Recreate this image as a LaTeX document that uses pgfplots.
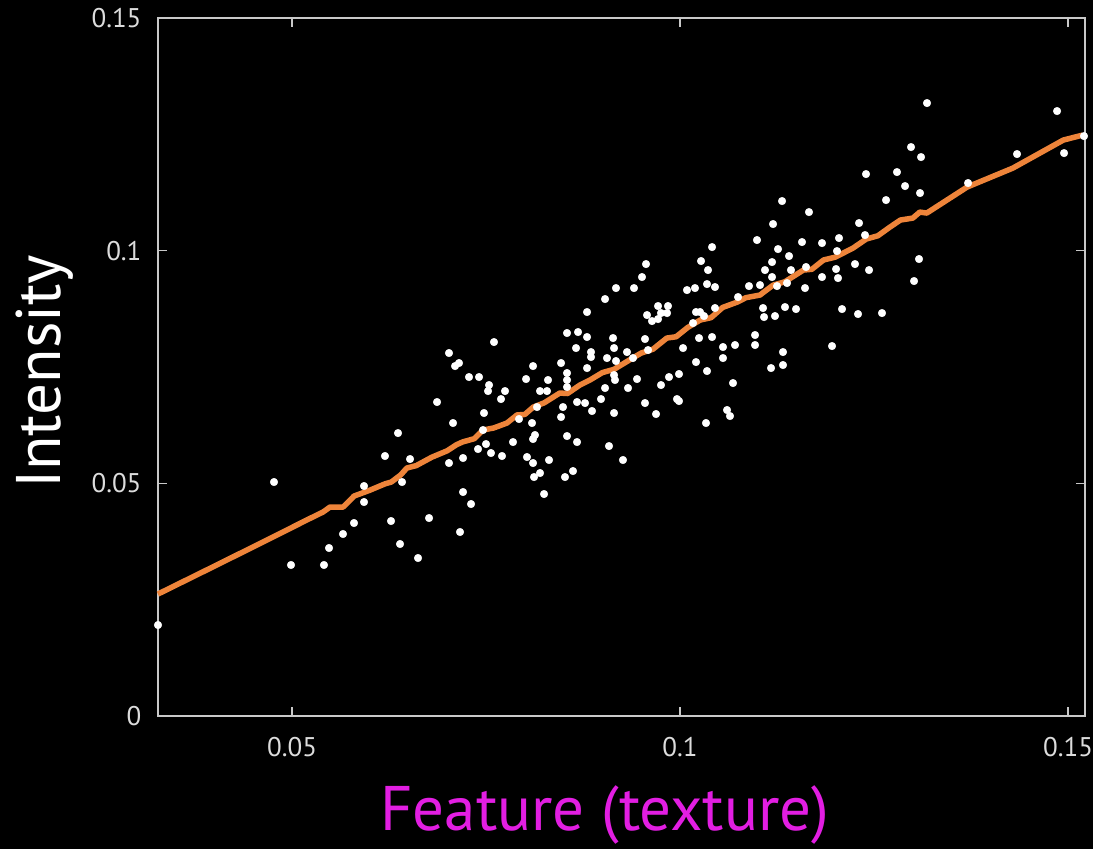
\documentclass[border=0pt]{standalone}
\usepackage{pgfplots}
\pgfplotsset{compat=1.18}
\usepackage{fontspec}
\setmainfont{PT Sans}
\definecolor{axgray}{RGB}{200,200,200}
\definecolor{tickgray}{RGB}{220,220,220}
\definecolor{lineorange}{RGB}{238,132,58}
\definecolor{labmagenta}{RGB}{226,30,226}
\begin{document}
\begin{tikzpicture}
\path[use as bounding box, fill=black] (-158pt,-133pt) rectangle (935pt,716pt);
\begin{axis}[
  at={(0pt,0pt)}, anchor=south west,
  scale only axis, width=927pt, height=698pt,
  xmin=0.03273, xmax=0.15219, ymin=0, ymax=0.15,
  xtick={0.05,0.1,0.15}, xticklabels={0.05,0.1,0.15},
  ytick={0,0.05,0.1,0.15}, yticklabels={0,0.05,0.1,0.15},
  tick align=inside, major tick length=9pt,
  axis line style={draw=axgray, line width=2pt},
  every tick/.style={axgray, line width=1.6pt},
  ticklabel style={font=\fontsize{27}{32}\selectfont, text=tickgray},
  xticklabel style={yshift=-18pt},
  yticklabel style={xshift=-13pt},
  xlabel={Feature (texture)},
  xlabel style={font=\fontsize{63}{70}\selectfont, text=labmagenta, anchor=base,
    at={(axis description cs:0.482,0)}, yshift=-114pt},
  ylabel={Intensity},
  ylabel style={font=\fontsize{63}{70}\selectfont, text=white, anchor=center,
    at={(axis description cs:-0.1219,0.493)}},
  clip=false,
]
\addplot[lineorange, line width=5.5pt, line join=round] coordinates {
(0.03273,0.02621) (0.0400,0.0322) (0.0470,0.0380) (0.0520,0.0422) (0.0540,0.04383)
(0.0549,0.04491) (0.0566,0.04491) (0.0580,0.04727) (0.0600,0.04850) (0.0620,0.04990)
(0.0628,0.05028) (0.0640,0.05180) (0.0648,0.05329) (0.0660,0.05380) (0.0680,0.05560)
(0.0700,0.05700) (0.0712,0.05830) (0.0720,0.05890) (0.0735,0.05960) (0.0746,0.06145)
(0.0760,0.06190) (0.0777,0.06296) (0.0790,0.06470) (0.0800,0.06480) (0.0811,0.06640)
(0.0825,0.06730) (0.0845,0.06940) (0.0855,0.06930) (0.0871,0.07112) (0.0885,0.07230)
(0.0900,0.07380) (0.0915,0.07450) (0.0939,0.07692) (0.0950,0.07800) (0.0965,0.07880)
(0.0983,0.08122) (0.0995,0.08150) (0.1010,0.08350) (0.1026,0.08509) (0.1040,0.08560)
(0.1055,0.08780) (0.1074,0.08896) (0.1085,0.08990) (0.1103,0.09046) (0.1120,0.09260)
(0.1135,0.09330) (0.1159,0.09583) (0.1170,0.09600) (0.1185,0.09800) (0.1200,0.09860)
(0.1223,0.10056) (0.1240,0.10250) (0.1255,0.10320) (0.1270,0.10500) (0.1284,0.10658)
(0.1300,0.10700) (0.1309,0.10829) (0.1318,0.10808) (0.1370,0.11367) (0.1429,0.11775)
(0.1494,0.12377) (0.1519,0.12484)
};
\addplot[only marks, mark=*, mark size=3.8pt, mark options={draw=white, fill=white}] coordinates {
(0.03273,0.01955) (0.04768,0.05028) (0.04987,0.03245) (0.05412,0.03245) (0.05477,0.03610)
(0.05657,0.03911) (0.05799,0.04147) (0.05928,0.04942) (0.05928,0.04598) (0.06198,0.05587)
(0.06276,0.04190) (0.06392,0.03696) (0.06418,0.05028) (0.06366,0.06080) (0.06521,0.05522)
(0.06624,0.03395) (0.06766,0.04254) (0.07165,0.03954) (0.07307,0.04555) (0.07204,0.04813)
(0.07603,0.08036) (0.07023,0.07800) (0.07101,0.07520) (0.07152,0.07585) (0.07281,0.07284)
(0.07410,0.07284) (0.07539,0.07112) (0.07526,0.06983) (0.07745,0.06983) (0.07693,0.06811)
(0.06869,0.06747) (0.08106,0.07520) (0.08016,0.07241) (0.08299,0.07220) (0.08196,0.06983)
(0.08286,0.06983) (0.08467,0.07585) (0.08544,0.08230) (0.08660,0.07907) (0.08544,0.07370)
(0.08544,0.07220) (0.08544,0.07069) (0.08673,0.06747) (0.08492,0.06639) (0.08467,0.06425)
(0.07474,0.06511) (0.07075,0.06296) (0.07925,0.06382) (0.08093,0.06296) (0.08157,0.06639)
(0.07461,0.06145) (0.08131,0.06038) (0.08106,0.05952) (0.08544,0.06016) (0.08673,0.05887)
(0.07848,0.05887) (0.07500,0.05844) (0.07397,0.05737) (0.07204,0.05544) (0.07564,0.05651)
(0.07706,0.05587) (0.07023,0.05436) (0.08028,0.05565) (0.08106,0.05436) (0.08312,0.05501)
(0.08196,0.05221) (0.08119,0.05135) (0.08518,0.05135) (0.08621,0.05264) (0.08248,0.04770)
(0.10413,0.10077) (0.09562,0.09712) (0.10271,0.09777) (0.10361,0.09583) (0.09510,0.09433)
(0.09175,0.09196) (0.09407,0.09196) (0.10090,0.09153) (0.10193,0.09196) (0.10348,0.09282)
(0.10451,0.09218) (0.09034,0.08960) (0.08802,0.08681) (0.09717,0.08810) (0.09845,0.08810)
(0.09755,0.08659) (0.09833,0.08659) (0.09575,0.08616) (0.09717,0.08530) (0.09639,0.08487)
(0.10206,0.08681) (0.10258,0.08681) (0.10309,0.08595) (0.10451,0.08767) (0.10748,0.09003)
(0.10168,0.08444) (0.08686,0.08251) (0.08802,0.08144) (0.09137,0.08122) (0.09549,0.08101)
(0.10245,0.08122) (0.10413,0.08144) (0.09150,0.07907) (0.08853,0.07821) (0.08853,0.07714)
(0.09317,0.07821) (0.09588,0.07864) (0.10039,0.07907) (0.10554,0.07929) (0.10709,0.07972)
(0.09059,0.07692) (0.09175,0.07628) (0.09394,0.07692) (0.10554,0.07692) (0.10206,0.07606)
(0.08802,0.07477) (0.09150,0.07327) (0.09162,0.07220) (0.10348,0.07413) (0.09858,0.07284)
(0.09987,0.07349) (0.09446,0.07241) (0.09755,0.07112) (0.09034,0.07048) (0.09330,0.07048)
(0.10683,0.07155) (0.08776,0.06725) (0.08866,0.06554) (0.08982,0.06811) (0.09549,0.06725)
(0.09961,0.06811) (0.09987,0.06768) (0.09150,0.06511) (0.09691,0.06489) (0.10606,0.06575)
(0.10644,0.06446) (0.10335,0.06296) (0.09085,0.05801) (0.09265,0.05501)
(0.12397,0.11646) (0.12796,0.11689) (0.11315,0.11066) (0.12655,0.11087) (0.11662,0.10829)
(0.11199,0.10572) (0.12307,0.10593) (0.10992,0.10228) (0.11572,0.10185) (0.11830,0.10163)
(0.12049,0.10271) (0.12384,0.10335) (0.11263,0.10034) (0.11405,0.09884) (0.12023,0.09991)
(0.11186,0.09755) (0.12255,0.09712) (0.11095,0.09583) (0.11430,0.09583) (0.11624,0.09648)
(0.12011,0.09605) (0.12436,0.09583) (0.11186,0.09433) (0.11830,0.09433) (0.12036,0.09411)
(0.10889,0.09239) (0.11031,0.09261) (0.11250,0.09239) (0.11379,0.09304) (0.11611,0.09196)
(0.11070,0.08767) (0.11353,0.08788) (0.11495,0.08745) (0.12088,0.08745) (0.12294,0.08638)
(0.12603,0.08659) (0.11083,0.08573) (0.11224,0.08595) (0.10967,0.08187) (0.10967,0.07972)
(0.11959,0.07950) (0.11327,0.07821) (0.11327,0.07542) (0.11173,0.07477)
(0.13183,0.13172) (0.14859,0.13000) (0.12977,0.12226) (0.13106,0.12011) (0.14343,0.12076)
(0.14949,0.12097) (0.12900,0.11388) (0.13093,0.11238) (0.13712,0.11453) (0.15206,0.12462)
(0.13080,0.09820) (0.13016,0.09347)
};
\end{axis}
\end{tikzpicture}
\end{document}
